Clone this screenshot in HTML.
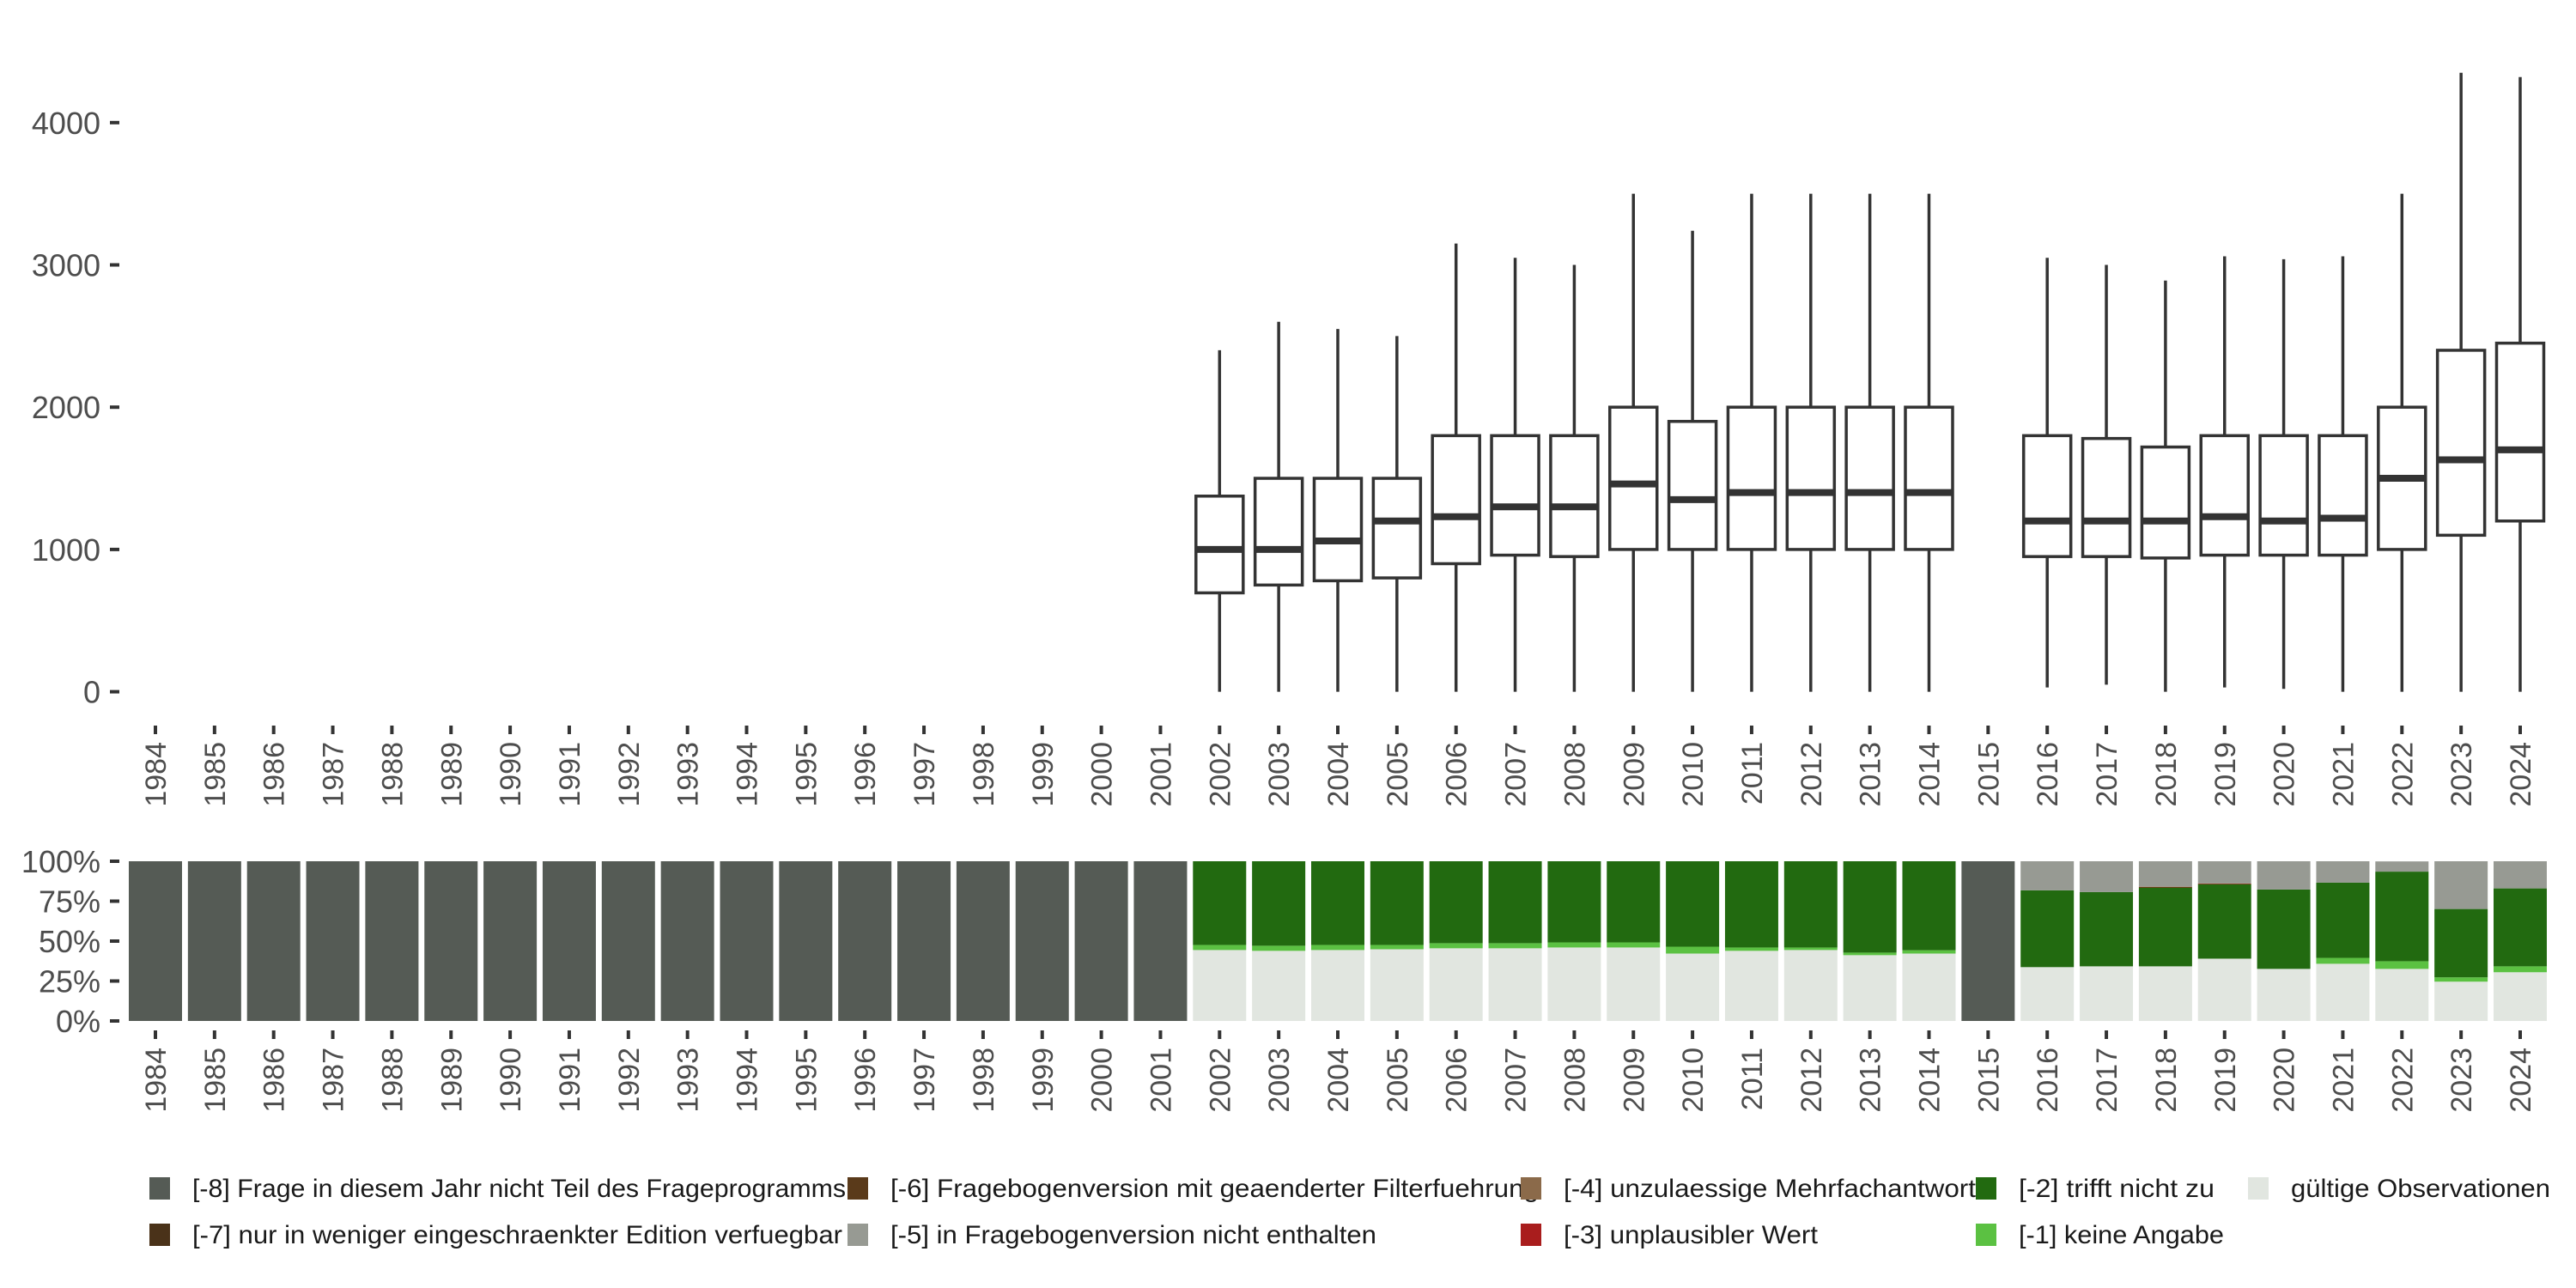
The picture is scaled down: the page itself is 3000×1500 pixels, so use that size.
<!DOCTYPE html>
<html><head><meta charset="utf-8"><style>
html,body{margin:0;padding:0;background:#fff;}
svg{display:block;font-family:"Liberation Sans","DejaVu Sans",sans-serif;}
</style></head><body>
<svg id="chart" width="3000" height="1500" viewBox="0 0 3000 1500" xmlns="http://www.w3.org/2000/svg">
<g id="topPanel"></g>
<g id="bottomPanel"></g>
<g id="legendPanel"></g>
</svg>
<script>
const years = [];
for (let y = 1984; y <= 2024; y++) years.push(y);
const boxYears = [2002,2003,2004,2005,2006,2007,2008,2009,2010,2011,2012,2013,2014,2016,2017,2018,2019,2020,2021,2022,2023,2024];
const boxMin = [0,0,0,0,0,0,0,0,0,0,0,0,0,30,50,0,30,20,0,0,0,0];
const boxQ1  = [695,750,780,800,900,960,950,1000,1000,1000,1000,1000,1000,950,950,940,960,960,960,1000,1100,1200];
const boxMed = [1000,1000,1060,1200,1230,1300,1300,1460,1350,1400,1400,1400,1400,1200,1200,1200,1230,1200,1220,1500,1630,1700];
const boxQ3  = [1375,1500,1500,1500,1800,1800,1800,2000,1900,2000,2000,2000,2000,1800,1780,1720,1800,1800,1800,2000,2400,2450];
const boxMax = [2400,2600,2550,2500,3150,3050,3000,3500,3240,3500,3500,3500,3500,3050,3000,2890,3060,3040,3060,3500,4350,4320];
const yTicks = [0,1000,2000,3000,4000];
const pctTicks = [0,25,50,75,100];
const pctLabels = ["0%","25%","50%","75%","100%"];
const shareValid = [0,0,0,0,0,0,0,0,0,0,0,0,0,0,0,0,0,0, 44.4,43.9,44.4,44.9,45.5,45.5,46.0,46.0,42.2,43.9,44.4,41.2,42.2, 0, 33.7,34.2,34.2,39.0,32.6,35.8,32.6,24.6,30.5];
const shareM1    = [0,0,0,0,0,0,0,0,0,0,0,0,0,0,0,0,0,0, 3.2,3.2,3.2,2.7,3.2,3.2,3.2,3.2,4.3,2.1,1.6,1.6,2.1, 0, 0,0,0,0,0,3.7,4.8,2.7,3.7];
const shareM2    = [0,0,0,0,0,0,0,0,0,0,0,0,0,0,0,0,0,0, 52.4,52.9,52.4,52.4,51.3,51.3,50.8,50.8,53.5,54.0,54.0,57.2,55.7, 0, 48.1,46.5,49.4,46.7,49.7,47.1,56.1,42.8,48.8];
const shareM3    = [0,0,0,0,0,0,0,0,0,0,0,0,0,0,0,0,0,0, 0,0,0,0,0,0,0,0,0,0,0,0,0, 0, 0,0,0.4,0.4,0,0,0,0,0];
const shareM5    = [0,0,0,0,0,0,0,0,0,0,0,0,0,0,0,0,0,0, 0,0,0,0,0,0,0,0,0,0,0,0,0, 0, 18.2,19.3,16.0,13.9,17.7,13.4,6.4,29.9,17.0];
const shareM8    = [100,100,100,100,100,100,100,100,100,100,100,100,100,100,100,100,100,100, 0,0,0,0,0,0,0,0,0,0,0,0,0, 100, 0,0,0,0,0,0,0,0,0];

const NS = "http://www.w3.org/2000/svg";
function mk(tag, attrs, parent) {
  const e = document.createElementNS(NS, tag);
  for (const k in attrs) e.setAttribute(k, attrs[k]);
  parent.appendChild(e);
  return e;
}
const step = 68.85, x0 = 181;
function xC(year) { return x0 + (year - 1984) * step; }
function yTop(v) { return 805.6 - v * 0.1657; }
function yBot(p) { return 1189 - p * 1.86; }

const topG = document.getElementById('topPanel');
const botG = document.getElementById('bottomPanel');
const legG = document.getElementById('legendPanel');

yTicks.forEach(v => {
  const t = mk('text', {x: 117, y: yTop(v) + 13, 'text-anchor': 'end', 'font-size': 36, fill: '#4d4d4d'}, topG);
  t.textContent = String(v);
  
  
  const l = mk('line', {x1: 128, x2: 139, y1: yTop(v), y2: yTop(v), stroke: '#333', 'stroke-width': 4}, topG);
  
  
});
years.forEach(yr => {
  [[845, 855, 864, topG], [1200, 1210, 1220, botG]].forEach(([a, b, ty, par]) => {
    const l = mk('line', {x1: xC(yr), x2: xC(yr), y1: a, y2: b, stroke: '#333', 'stroke-width': 4}, par);
    
    
    const t = mk('text', {x: 0, y: 0, 'text-anchor': 'end', 'font-size': 34, fill: '#4d4d4d', transform: `translate(${xC(yr) + 12},${ty}) rotate(-90)`}, par);
    t.textContent = String(yr);
    
    
  });
});
const bw = 55;
boxYears.forEach((yr, i) => {
  const g = mk('g', {}, topG);
  
  
  const cx = xC(yr);
  mk('line', {x1: cx, x2: cx, y1: yTop(boxMin[i]), y2: yTop(boxQ1[i]), stroke: '#333', 'stroke-width': 3.5}, g);
  mk('line', {x1: cx, x2: cx, y1: yTop(boxQ3[i]), y2: yTop(boxMax[i]), stroke: '#333', 'stroke-width': 3.5}, g);
  mk('rect', {x: cx - bw/2, y: yTop(boxQ3[i]), width: bw, height: yTop(boxQ1[i]) - yTop(boxQ3[i]), fill: '#fff', stroke: '#333', 'stroke-width': 3.5}, g);
  mk('line', {x1: cx - bw/2, x2: cx + bw/2, y1: yTop(boxMed[i]), y2: yTop(boxMed[i]), stroke: '#333', 'stroke-width': 8}, g);
});

pctTicks.forEach((p, i) => {
  const t = mk('text', {x: 117, y: yBot(p) + 13, 'text-anchor': 'end', 'font-size': 36, fill: '#4d4d4d'}, botG);
  t.textContent = pctLabels[i];
  
  
  const l = mk('line', {x1: 128, x2: 139, y1: yBot(p), y2: yBot(p), stroke: '#333', 'stroke-width': 4}, botG);
  
  
});
const series = [
  ['valid', shareValid, '#e1e6e0'],
  ['m1', shareM1, '#5bc142'],
  ['m2', shareM2, '#226a10'],
  ['m3', shareM3, '#a91d1d'],
  ['m5', shareM5, '#979a93'],
  ['m8', shareM8, '#555b55']
];
const barW = 62;
years.forEach((yr, i) => {
  let acc = 0;
  series.forEach(([nm, arr, col]) => {
    const v = arr[i];
    if (v <= 0) return;
    const r = mk('rect', {x: xC(yr) - barW/2, y: yBot(acc + v), width: barW, height: yBot(acc) - yBot(acc + v), fill: col}, botG);
    
    
    acc += v;
  });
});

const legendItems = [
  [186, 1383, '#555b55', '[-8] Frage in diesem Jahr nicht Teil des Frageprogramms', 761],
  [186, 1437, '#4a3219', '[-7] nur in weniger eingeschraenkter Edition verfuegbar', 757],
  [999, 1383, '#5a3a1a', '[-6] Fragebogenversion mit geaenderter Filterfuehrung', 755],
  [999, 1437, '#979a93', '[-5] in Fragebogenversion nicht enthalten', 566],
  [1783, 1383, '#8b6a4a', '[-4] unzulaessige Mehrfachantwort', 480],
  [1783, 1437, '#a91d1d', '[-3] unplausibler Wert', 296],
  [2313, 1383, '#226a10', '[-2] trifft nicht zu', 228],
  [2313, 1437, '#5bc142', '[-1] keine Angabe', 239],
  [2630, 1383, '#e1e6e0', 'gültige Observationen', 302]
];
legendItems.forEach(([x, y, col, label, w]) => {
  const g = mk('g', {}, legG);
  
  
  mk('rect', {x: x - 12, y: y - 12, width: 24, height: 26, fill: col}, g);
  const t = mk('text', {x: x + 38, y: y + 11, 'font-size': 30, fill: '#1a1a1a', textLength: w, lengthAdjust: 'spacingAndGlyphs'}, g);
  t.textContent = label;
});
</script>
</body></html>
